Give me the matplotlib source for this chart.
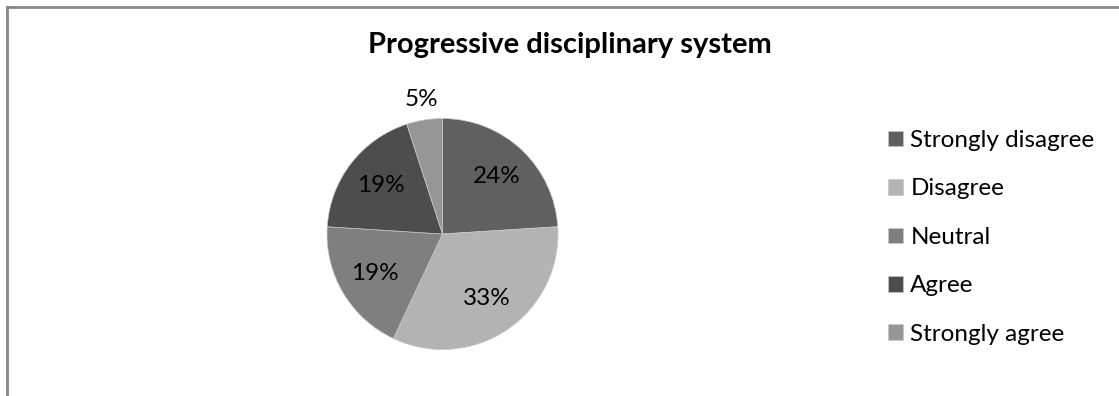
import matplotlib
matplotlib.use("Agg")
import matplotlib.pyplot as plt
from matplotlib.lines import Line2D
import numpy as np

categories = ["Strongly disagree", "Disagree", "Neutral", "Agree", "Strongly agree"]
values = [24, 33, 19, 19, 5]
colors = ["#606060", "#b3b3b3", "#7f7f7f", "#4d4d4d", "#969696"]
title = "Progressive disciplinary system"

plt.rcParams['font.family'] = ['Lato', 'DejaVu Sans']

W, H = 1119, 396
fig = plt.figure(figsize=(W/100, H/100), dpi=100)

cx, cy, r = 442.5, 234, 115.5
ax = fig.add_axes([(cx - r)/W, (H - cy - r)/H, 2*r/W, 2*r/H])
wedges, texts, autotexts = ax.pie(values, colors=colors, startangle=90, counterclock=False,
                                  autopct=lambda p: f"{p:.0f}%", pctdistance=0.68,
                                  wedgeprops=dict(linewidth=0.5, edgecolor="#c8c8c8"),
                                  textprops=dict(fontsize=17.5, color="black"))
ax.set_aspect('equal')
ax.set_xlim(-1, 1)
ax.set_ylim(-1, 1)

# move small slice label outside
w = wedges[4]
ang = np.deg2rad((w.theta1 + w.theta2) / 2)
autotexts[4].set_position((1.18*np.cos(ang), 1.18*np.sin(ang)))

fig.text(570/W, 1 - 45/H, title, ha="center", va="center", fontsize=21, fontweight="bold")

leg = fig.legend(wedges, categories, loc="upper left", bbox_to_anchor=(888/W, 1 - 130/H),
                 frameon=False, fontsize=17.5, handlelength=0.62, handleheight=0.62,
                 handletextpad=0.3, labelspacing=1.13, borderaxespad=0, borderpad=0)

# border
fig.add_artist(Line2D([7/W, 1], [1 - 6.5/H, 1 - 6.5/H], transform=fig.transFigure, color="#878787", lw=2))
fig.add_artist(Line2D([7/W, 7/W], [0, 1 - 6.5/H], transform=fig.transFigure, color="#878787", lw=2))

fig.savefig("out.png", dpi=100)
